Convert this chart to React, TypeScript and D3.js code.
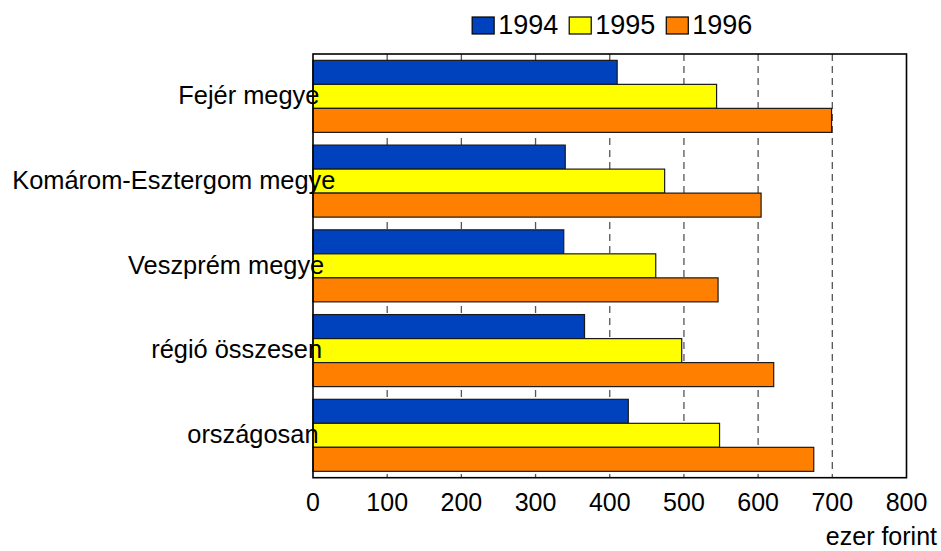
import React from "react";
import * as d3 from "d3";

const categories = ["Fejér megye", "Komárom-Esztergom megye", "Veszprém megye", "régió összesen", "országosan"];
const seriesNames = ["1994", "1995", "1996"];
const values1994 = [410, 340, 338, 366, 425];
const values1995 = [544, 474, 462, 497, 548];
const values1996 = [699, 604, 546, 621, 675];
const xTicks = [0, 100, 200, 300, 400, 500, 600, 700, 800];
const gridTicks = [100, 200, 300, 400, 500, 600, 700];
const colors = ["#0041BE", "#FFFF00", "#FF8000"];
const unitLabel = "ezer forint";

const FONT = "'Liberation Sans', Arial, Helvetica, sans-serif";

let ctx: CanvasRenderingContext2D | null = null;
function measure(text: string, size: number): number {
  if (!ctx) {
    const c = document.createElement("canvas");
    ctx = c.getContext("2d");
  }
  if (!ctx) return text.length * size * 0.5;
  ctx.font = `${size}px ${FONT}`;
  return ctx.measureText(text).width;
}

export default function App() {
  const W = 941, H = 551;
  const left = 313, right = 906.5, top = 54, bottom = 477.7;
  const series = [values1994, values1995, values1996];

  const x = d3.scaleLinear().domain([0, 800]).range([left, right]);
  const y = d3.scaleBand<string>().domain(categories).range([top, bottom]).paddingInner(0.15).paddingOuter(0.075);
  const inner = d3.scaleBand<string>().domain(seriesNames).range([0, y.bandwidth()]).padding(0);

  // legend layout
  const legFont = 27;
  const sqW = 22, sqH = 17;
  const items = seriesNames.map((s) => ({ s, w: sqW + 5 + measure(s, legFont) }));
  const gap = 10;
  const totalW = items.reduce((a, b) => a + b.w, 0) + gap * (items.length - 1);
  let lx = (left + right) / 2 - totalW / 2 + 3;
  const legendItems = items.map((it, i) => {
    const pos = lx;
    lx += it.w + gap;
    return { ...it, x: pos, color: colors[i] };
  });

  const labFont = 25.4;

  return (
    <svg width={W} height={H} style={{ position: "absolute", left: 0, top: 0, background: "#fff" }} fontFamily={FONT}>
      {/* gridlines */}
      {gridTicks.map((t) => (
        <line key={t} x1={x(t)} x2={x(t)} y1={top} y2={bottom} stroke="#555" strokeWidth={1.3} strokeDasharray="7,5" />
      ))}
      {/* bars */}
      {categories.map((c, ci) => (
        <g key={c} transform={`translate(0,${y(c)})`}>
          {series.map((vals, si) => (
            <rect
              key={si}
              x={x(0)}
              y={inner(seriesNames[si])}
              width={x(vals[ci]) - x(0)}
              height={inner.bandwidth()}
              fill={colors[si]}
              stroke="#1a1a1a"
              strokeWidth={1.2}
            />
          ))}
        </g>
      ))}
      {/* frame */}
      <rect x={left} y={top} width={right - left} height={bottom - top} fill="none" stroke="#000" strokeWidth={1.6} />
      {/* category labels */}
      {categories.map((c) => {
        const w = measure(c, labFont);
        const xEnd = 307 + 0.088 * w;
        return (
          <text key={c} x={xEnd} y={(y(c) as number) + y.bandwidth() / 2 + 7.8} textAnchor="end" fontSize={labFont} fill="#000">
            {c}
          </text>
        );
      })}
      {/* x tick labels */}
      {xTicks.map((t) => (
        <text key={t} x={x(t)} y={511} textAnchor="middle" fontSize={25} fill="#000">
          {t}
        </text>
      ))}
      <text x={937} y={545} textAnchor="end" fontSize={25} fill="#000">
        {unitLabel}
      </text>
      {/* legend */}
      {legendItems.map((it) => (
        <g key={it.s}>
          <rect x={it.x} y={17} width={sqW} height={sqH} fill={it.color} stroke="#000" strokeWidth={1.2} />
          <text x={it.x + sqW + 4} y={33.5} fontSize={legFont} fill="#000">
            {it.s}
          </text>
        </g>
      ))}
    </svg>
  );
}
